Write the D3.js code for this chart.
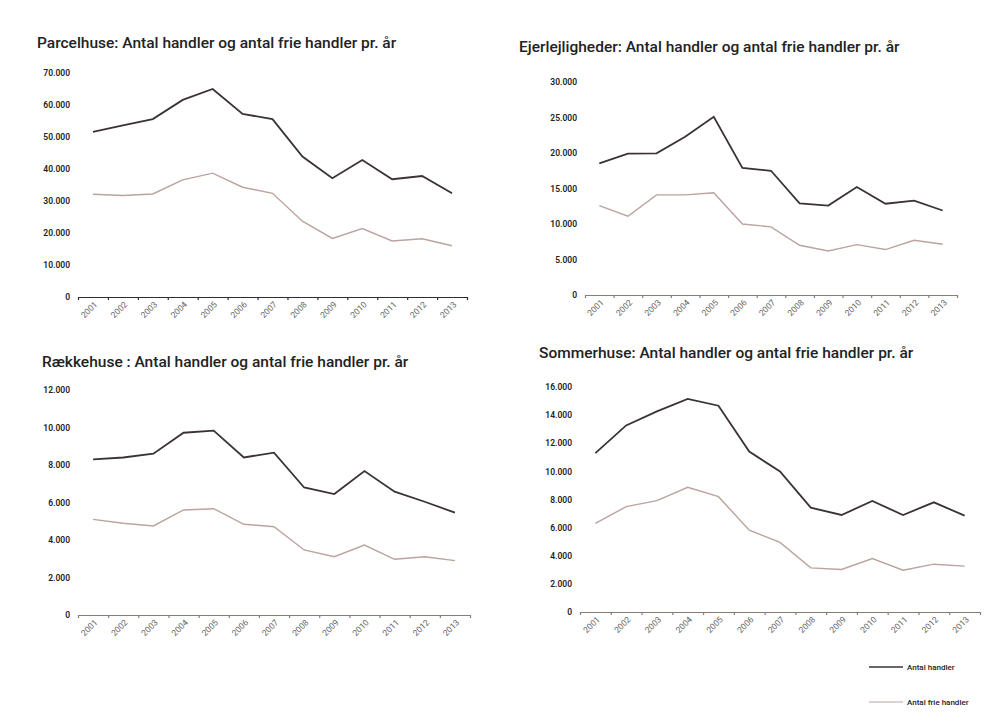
<!DOCTYPE html>
<html>
<head>
<meta charset="utf-8">
<script src="https://cdn.jsdelivr.net/npm/d3@7"></script>
<style>
  body { margin: 0; background: #fff; }
  text { font-family: Roboto, "Noto Sans", sans-serif; }
</style>
</head>
<body>
<div id="my_dataviz"></div>
<script>
// data
var years = ["2001","2002","2003","2004","2005","2006","2007","2008","2009","2010","2011","2012","2013"];

var parcelHandler = [51600,53600,55600,61600,65000,57200,55600,43900,37100,42800,36800,37800,32400];
var parcelFrie    = [32100,31700,32200,36600,38700,34300,32400,23700,18300,21400,17500,18200,16000];
var parcelTicks   = [0,10000,20000,30000,40000,50000,60000,70000];

var ejerHandler = [18550,19900,19950,22300,25100,17900,17500,12900,12600,15200,12850,13300,11900];
var ejerFrie    = [12600,11100,14100,14100,14400,10000,9600,7000,6200,7100,6400,7700,7150];
var ejerTicks   = [0,5000,10000,15000,20000,25000,30000];

var raekkeHandler = [8300,8400,8600,9720,9830,8400,8660,6800,6450,7680,6580,6040,5460];
var raekkeFrie    = [5100,4890,4750,5600,5670,4840,4710,3470,3110,3730,2970,3110,2900];
var raekkeTicks   = [0,2000,4000,6000,8000,10000,12000];

var sommerHandler = [11300,13270,14270,15150,14670,11410,9990,7420,6900,7890,6900,7800,6850];
var sommerFrie    = [6300,7490,7920,8870,8200,5820,4950,3140,3020,3800,2970,3400,3260];
var sommerTicks   = [0,2000,4000,6000,8000,10000,12000,14000,16000];

var legendLabels = ["Antal handler", "Antal frie handler"];

var darkCol = "#3b3333", lightCol = "#bba39e";

var svg = d3.select("#my_dataviz")
  .append("svg")
  .attr("width", 985)
  .attr("height", 715);

var fmt = d3.formatLocale({decimal: ",", thousands: ".", grouping: [3], currency: ["", ""]}).format(",");

// one panel per housing type
var panels = [
  {title: "Parcelhuse: Antal handler og antal frie handler pr. år", tx: 37, ty: 48,
   x0: 78, x1: 467, y0: 297, y1: 73, max: 70000, ticks: parcelTicks,
   a: parcelHandler, b: parcelFrie, axisCol: "#2c2c3c"},
  {title: "Ejerlejligheder: Antal handler og antal frie handler pr. år", tx: 519, ty: 52,
   x0: 585, x1: 957, y0: 295, y1: 82, max: 30000, ticks: ejerTicks,
   a: ejerHandler, b: ejerFrie, axisCol: "#8d7b78"},
  {title: "Rækkehuse : Antal handler og antal frie handler pr. år", tx: 42, ty: 367,
   x0: 78, x1: 470, y0: 615, y1: 390, max: 12000, ticks: raekkeTicks,
   a: raekkeHandler, b: raekkeFrie, axisCol: "#8d7b78"},
  {title: "Sommerhuse: Antal handler og antal frie handler pr. år", tx: 539, ty: 358,
   x0: 580, x1: 980, y0: 612, y1: 387, max: 16000, ticks: sommerTicks,
   a: sommerHandler, b: sommerFrie, axisCol: "#8d7b78"}
];

panels.forEach(function(p) {
  var g = svg.append("g");

  g.append("text")
    .attr("x", p.tx).attr("y", p.ty)
    .style("font-size", "15.5px")
    .style("font-weight", 500)
    .style("fill", "#222")
    .text(p.title);

  var x = d3.scaleBand().domain(years).range([p.x0, p.x1]).padding(0);
  var edge = d3.scaleLinear().domain([0, years.length]).range([p.x0, p.x1]);
  var y = d3.scaleLinear().domain([0, p.max]).range([p.y0, p.y1]);

  // y labels only
  var ya = g.append("g")
    .attr("transform", "translate(" + (p.x0 - 8) + ",0)")
    .call(d3.axisLeft(y).tickValues(p.ticks).tickSize(0).tickPadding(0).tickFormat(fmt));
  ya.select(".domain").remove();
  ya.selectAll("text").style("font-size", "8.5px").style("font-weight", 600).style("fill", "#222");

  // x axis line with ticks between categories
  var xe = g.append("g")
    .attr("transform", "translate(0," + p.y0 + ")")
    .call(d3.axisBottom(edge).tickValues(d3.range(years.length + 1)).tickSize(3).tickSizeOuter(0).tickFormat(""));
  xe.selectAll("path, line").attr("stroke", p.axisCol).attr("stroke-width", 1.2);

  // rotated year labels
  var xa = g.append("g")
    .attr("transform", "translate(0," + p.y0 + ")")
    .call(d3.axisBottom(x).tickSize(0).tickPadding(0));
  xa.select(".domain").remove();
  xa.selectAll("text")
    .attr("dy", 0)
    .attr("y", 0)
    .attr("transform", "translate(5,8) rotate(-45)")
    .style("text-anchor", "end")
    .style("font-size", "8.5px")
    .style("fill", "#666");

  var line = d3.line()
    .x(function(d, i) { return x(years[i]) + x.bandwidth() / 2; })
    .y(function(d) { return y(d); });

  g.append("path").datum(p.b)
    .attr("d", line)
    .attr("fill", "none")
    .attr("stroke", lightCol)
    .attr("stroke-width", 1.4);

  g.append("path").datum(p.a)
    .attr("d", line)
    .attr("fill", "none")
    .attr("stroke", darkCol)
    .attr("stroke-width", 1.8);
});

// legend
var legendY = d3.scalePoint().domain(legendLabels).range([667, 702]);
var lg = svg.append("g").selectAll("g")
  .data(legendLabels)
  .enter().append("g")
  .attr("transform", function(d) { return "translate(869," + legendY(d) + ")"; });
lg.append("line")
  .attr("x1", 0).attr("x2", 34)
  .attr("stroke", function(d, i) { return i === 0 ? darkCol : lightCol; })
  .attr("stroke-width", function(d, i) { return i === 0 ? 1.4 : 1.2; });
lg.append("text")
  .attr("x", 38).attr("dy", "0.35em")
  .style("font-size", "8px")
  .style("font-weight", 500)
  .style("fill", "#222")
  .text(function(d) { return d; });
</script>
</body>
</html>
